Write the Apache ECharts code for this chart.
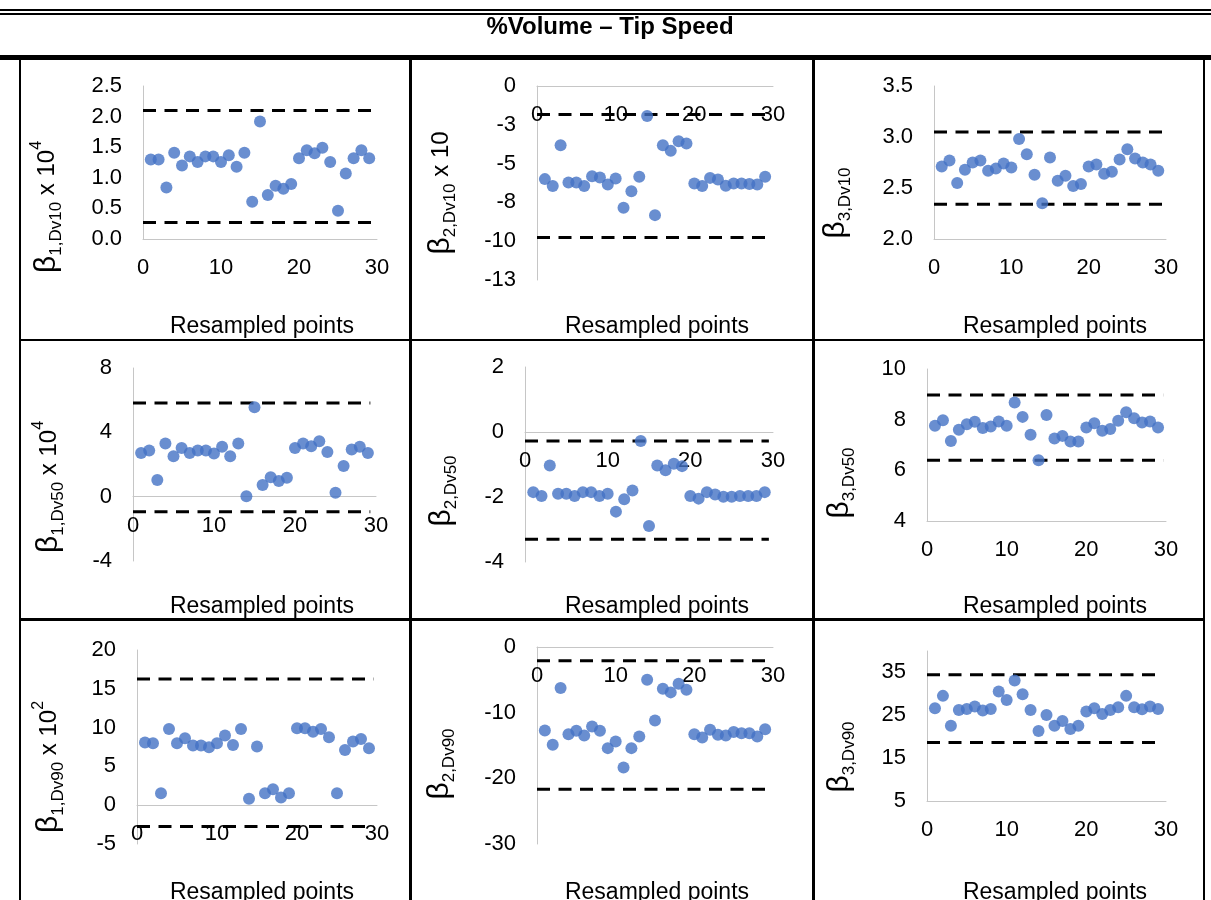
<!DOCTYPE html>
<html>
<head>
<meta charset="utf-8">
<script src="https://cdn.jsdelivr.net/npm/echarts@6/dist/echarts.min.js"></script>
<style>
  html, body { margin: 0; padding: 0; background: #fff; }
  #chart { width: 1211px; height: 900px; }
</style>
</head>
<body>
<div id="chart"></div>
<script>
// Resampled point index (x values, shared by all panels)
const resampledIndex = [1, 2, 3, 4, 5, 6, 7, 8, 9, 10, 11, 12, 13, 14, 15,
  16, 17, 18, 19, 20, 21, 22, 23, 24, 25, 26, 27, 28, 29];

// Coefficient estimates per resampled point (already multiplied by the factor in the axis title)
const b1Dv10 = [1.30, 1.30, 0.84, 1.41, 1.20, 1.35, 1.26, 1.35, 1.35, 1.26, 1.37, 1.18, 1.41, 0.61, 1.92,
  0.72, 0.87, 0.82, 0.90, 1.32, 1.45, 1.40, 1.49, 1.26, 0.46, 1.07, 1.32, 1.45, 1.32];
const b2Dv10 = [-6.00, -6.45, -3.82, -6.22, -6.22, -6.45, -5.81, -5.90, -6.35, -5.96, -7.85, -6.78, -5.85, -1.93, -8.32,
  -3.82, -4.18, -3.56, -3.71, -6.28, -6.45, -5.92, -6.02, -6.43, -6.28, -6.28, -6.32, -6.35, -5.85];
const b3Dv10 = [2.71, 2.77, 2.55, 2.68, 2.75, 2.77, 2.67, 2.69, 2.74, 2.70, 2.98, 2.83, 2.63, 2.35, 2.80,
  2.57, 2.62, 2.52, 2.54, 2.71, 2.73, 2.64, 2.66, 2.78, 2.88, 2.79, 2.75, 2.73, 2.67];
const b1Dv50 = [2.72, 2.87, 1.03, 3.30, 2.52, 3.03, 2.72, 2.87, 2.87, 2.68, 3.10, 2.52, 3.30, 0.03, 5.56,
  0.72, 1.21, 0.97, 1.17, 3.03, 3.30, 3.14, 3.45, 2.77, 0.24, 1.90, 2.93, 3.10, 2.72];
const b2Dv50 = [-1.85, -1.97, -1.03, -1.90, -1.90, -1.97, -1.85, -1.85, -1.97, -1.90, -2.45, -2.07, -1.80, -0.28, -2.89,
  -1.03, -1.18, -0.98, -1.05, -1.97, -2.05, -1.85, -1.92, -1.99, -1.99, -1.97, -1.97, -1.97, -1.85];
const b3Dv50 = [7.76, 7.98, 7.16, 7.60, 7.82, 7.92, 7.67, 7.73, 7.93, 7.76, 8.68, 8.11, 7.40, 6.40, 8.18,
  7.26, 7.36, 7.14, 7.14, 7.69, 7.86, 7.56, 7.63, 7.96, 8.29, 8.06, 7.89, 7.93, 7.69];
const b1Dv90 = [8.07, 7.98, 1.55, 9.83, 7.98, 8.63, 7.68, 7.68, 7.47, 7.98, 8.97, 7.77, 9.83, 0.82, 7.55,
  1.55, 2.06, 0.99, 1.55, 9.91, 9.91, 9.48, 9.83, 8.76, 1.55, 7.12, 8.20, 8.54, 7.34];
const b2Dv90 = [-12.71, -14.90, -6.25, -13.27, -12.76, -13.47, -12.10, -12.76, -15.40, -14.39, -18.35, -15.40, -13.62, -4.98, -11.18,
  -6.35, -6.91, -5.59, -6.51, -13.27, -13.78, -12.61, -13.37, -13.47, -12.96, -13.12, -13.12, -13.62, -12.51];
const b3Dv90 = [26.64, 29.53, 22.58, 26.25, 26.48, 27.03, 26.09, 26.48, 30.55, 28.59, 33.13, 29.92, 26.25, 21.33, 25.08,
  22.58, 23.67, 21.80, 22.58, 25.86, 26.64, 25.31, 26.25, 26.88, 29.53, 26.88, 26.41, 27.03, 26.48];

// Control limits (dashed lines), panel order: Dv10 row, Dv50 row, Dv90 row; beta1, beta2, beta3
const upperLimit = [2.10, -1.84, 3.05, 5.83, -0.28, 8.97, 16.27, -2.08, 34.45];
const lowerLimit = [0.27, -9.76, 2.34, -0.94, -3.30, 6.40, -2.75, -21.66, 18.67];
const limitStartX = [0, 0, 0, 0, 0, 0, 0, 0, 0];
const limitEndX = [30, 30, 30, 29.3, 29.5, 29.7, 29.6, 29.8, 29.6];

// Axis ranges and tick labels
const xTickLabels = ['0', '10', '20', '30'];
const yMin = [0, -12.5, 2, -4, -4, 4, -5, -30, 5];
const yMax = [2.5, 0, 3.5, 8, 2, 10, 20, 0, 40];
const yStep = [0.5, 2.5, 0.5, 4, 2, 2, 5, 10, 5];
const yTickLabels = [
  ['0.0', '0.5', '1.0', '1.5', '2.0', '2.5'],
  ['-13', '-10', '-8', '-5', '-3', '0'],
  ['2.0', '2.5', '3.0', '3.5'],
  ['-4', '0', '4', '8'],
  ['-4', '-2', '0', '2'],
  ['4', '6', '8', '10'],
  ['-5', '0', '5', '10', '15', '20'],
  ['-30', '-20', '-10', '0'],
  ['5', '', '15', '', '25', '', '35', '']
];

// Axis titles: beta index, subscript, multiplier, exponent
const betaIndex = ['1', '2', '3', '1', '2', '3', '1', '2', '3'];
const betaSize = ['Dv10', 'Dv10', 'Dv10', 'Dv50', 'Dv50', 'Dv50', 'Dv90', 'Dv90', 'Dv90'];
const multiplier = [' x 10', ' x 10', '', ' x 10', '', '', ' x 10', '', ''];
const exponent = ['4', '', '', '4', '', '', '2', '', ''];
const xTitle = 'Resampled points';
const tableTitle = '%Volume \u2013 Tip Speed';

const panelSeries = [b1Dv10, b2Dv10, b3Dv10, b1Dv50, b2Dv50, b3Dv50, b1Dv90, b2Dv90, b3Dv90];

// Plot areas of the 3x3 table cells
const grids = [
  { left: 143, top: 86, width: 234, height: 153 },
  { left: 537, top: 86, width: 236, height: 194 },
  { left: 934, top: 86, width: 232, height: 153 },
  { left: 133, top: 368, width: 243, height: 193 },
  { left: 525, top: 367, width: 248, height: 195 },
  { left: 927, top: 369, width: 239, height: 152 },
  { left: 137, top: 650, width: 240, height: 194 },
  { left: 537, top: 647, width: 236, height: 197 },
  { left: 927, top: 651, width: 239, height: 150 }
];
// Centres of the rotated y titles and of the x titles
const yTitlePos = [[47, 207], [441, 193], [836, 203], [49, 487], [442, 491], [840, 483], [49, 767], [440, 764], [840, 757]];
const xTitlePos = [[262, 327], [657, 327], [1055, 327], [262, 607], [657, 607], [1055, 607], [262, 893], [657, 893], [1055, 893]];

const FONT = '"Liberation Sans", Arial, Helvetica, sans-serif';
const AXIS_GREY = '#c6c6c6';

function yLabelFormatter(i) {
  return function (v) {
    const k = Math.round((v - yMin[i]) / yStep[i]);
    const lbl = yTickLabels[i][k];
    return lbl === undefined ? '' : lbl;
  };
}

// The horizontal axis crosses the vertical one at zero when zero is in range,
// otherwise it sits at the bottom of the plot area.
function crossingOffset(i) {
  if (yMin[i] >= 0 || yMax[i] < 0) return 0;
  return -grids[i].height * (0 - yMin[i]) / (yMax[i] - yMin[i]);
}

const option = {
  animation: false,
  backgroundColor: '#fff',
  grid: grids.map(g => Object.assign({ containLabel: false }, g)),
  xAxis: grids.map((g, i) => ({
    gridIndex: i,
    type: 'value',
    position: 'bottom',
    offset: crossingOffset(i),
    min: 0,
    max: 30,
    interval: 10,
    axisLine: { show: true, onZero: false, lineStyle: { color: AXIS_GREY, width: 1 } },
    axisTick: { show: false },
    splitLine: { show: false },
    axisLabel: {
      margin: 18, fontSize: 22, color: '#000', fontFamily: FONT,
      formatter: v => xTickLabels[Math.round(v / 10)] || ''
    }
  })),
  yAxis: grids.map((g, i) => ({
    gridIndex: i,
    type: 'value',
    min: yMin[i],
    max: yMax[i],
    interval: yStep[i],
    axisLine: { show: true, onZero: false, lineStyle: { color: AXIS_GREY, width: 1 } },
    axisTick: { show: false },
    splitLine: { show: false },
    axisLabel: {
      margin: 21, fontSize: 22, color: '#000', fontFamily: FONT,
      showMinLabel: true, showMaxLabel: true,
      formatter: yLabelFormatter(i)
    }
  })),
  series: []
};

panelSeries.forEach((vals, i) => {
  option.series.push({
    type: 'line',
    xAxisIndex: i, yAxisIndex: i,
    data: [[limitStartX[i], upperLimit[i]], [limitEndX[i], upperLimit[i]]],
    symbol: 'none', silent: true, z: 2,
    lineStyle: { color: '#000', width: 3, type: [13, 8.5] }
  });
  option.series.push({
    type: 'line',
    xAxisIndex: i, yAxisIndex: i,
    data: [[limitStartX[i], lowerLimit[i]], [limitEndX[i], lowerLimit[i]]],
    symbol: 'none', silent: true, z: 2,
    lineStyle: { color: '#000', width: 3, type: [13, 8.5] }
  });
  option.series.push({
    type: 'scatter',
    xAxisIndex: i, yAxisIndex: i,
    data: resampledIndex.map((x, k) => [x, vals[k]]),
    symbol: 'circle', symbolSize: 12, z: 3,
    itemStyle: { color: '#4472C4' }
  });
});

// Table frame, title and axis titles
const graphics = [];
function bar(x, y, w, h) {
  graphics.push({ type: 'rect', shape: { x: x, y: y, width: w, height: h }, style: { fill: '#000' }, silent: true, z: 10 });
}
bar(0, 9, 1211, 2);
bar(0, 13, 1211, 2);
bar(0, 55, 1211, 5);
bar(19, 60, 2, 840);
bar(409, 60, 3, 840);
bar(812, 60, 3, 840);
bar(1203, 60, 2, 840);
bar(19, 339, 1186, 2);
bar(19, 618, 1186, 3);

graphics.push({
  type: 'text', x: 610, y: 27, silent: true, z: 10,
  style: { text: tableTitle, fontFamily: FONT, fontWeight: 'bold', fontSize: 24, fill: '#000', align: 'center', verticalAlign: 'middle' }
});

panelSeries.forEach((vals, i) => {
  let txt = '{b|\u03b2}{s|' + betaIndex[i] + ',' + betaSize[i] + '}';
  if (multiplier[i]) txt += '{m|' + multiplier[i] + '}';
  if (exponent[i]) txt += '{p|' + exponent[i] + '}';
  graphics.push({
    type: 'text', x: yTitlePos[i][0], y: yTitlePos[i][1], rotation: Math.PI / 2, silent: true, z: 10,
    style: {
      text: txt, align: 'center', verticalAlign: 'middle', fill: '#000', fontFamily: FONT,
      rich: {
        b: { fontFamily: FONT, fontSize: 30, lineHeight: 36, fill: '#000', verticalAlign: 'middle' },
        s: { fontFamily: FONT, fontSize: 17, lineHeight: 25, fill: '#000', verticalAlign: 'bottom' },
        m: { fontFamily: FONT, fontSize: 24, lineHeight: 36, fill: '#000', verticalAlign: 'middle' },
        p: { fontFamily: FONT, fontSize: 16, lineHeight: 25, fill: '#000', verticalAlign: 'top' }
      }
    }
  });
  graphics.push({
    type: 'text', x: xTitlePos[i][0], y: xTitlePos[i][1], silent: true, z: 10,
    style: { text: xTitle, fontFamily: FONT, fontSize: 23, fill: '#000', align: 'center', verticalAlign: 'middle' }
  });
});
option.graphic = { elements: graphics };

const chart = echarts.init(document.getElementById('chart'), null, { renderer: 'canvas', width: 1211, height: 900 });
chart.setOption(option);
</script>
</body>
</html>
